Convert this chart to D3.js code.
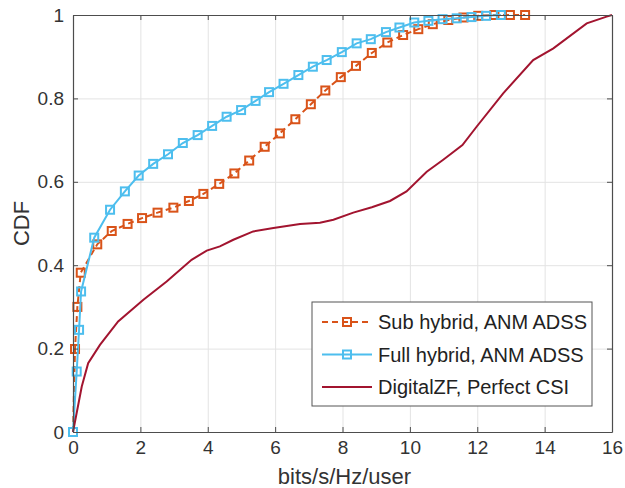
<!DOCTYPE html>
<html>
<head>
<meta charset="utf-8">
<script src="https://cdn.jsdelivr.net/npm/d3@7"></script>
<style>
  body { margin: 0; background: #fff; }
  text { font-family: "Liberation Sans", Arial, Helvetica, sans-serif; fill: #333; }
</style>
</head>
<body>
<div id="chart"></div>
<script>
"use strict"

/* tick values */
let xTicks = [0, 2, 4, 6, 8, 10, 12, 14, 16];
let yTicks = [0, 0.2, 0.4, 0.6, 0.8, 1];

/* Sub hybrid, ANM ADSS */
let subRate = [0, 0.06, 0.13, 0.23, 0.72, 1.15, 1.62, 2.05, 2.51, 2.98, 3.44, 3.87, 4.34, 4.79,
  5.23, 5.69, 6.14, 6.60, 7.06, 7.49, 7.95, 8.40, 8.87, 9.33, 9.80, 10.25, 10.68, 11.14,
  11.59, 12.03, 12.51, 12.97, 13.42];
let subCdf = [0, 0.199, 0.300, 0.382, 0.450, 0.482, 0.499, 0.513, 0.526, 0.538, 0.554, 0.571,
  0.595, 0.620, 0.651, 0.684, 0.716, 0.750, 0.786, 0.819, 0.851, 0.878, 0.909, 0.934, 0.952,
  0.966, 0.978, 0.988, 0.994, 0.998, 1, 1, 1];

/* Full hybrid, ANM ADSS */
let fullRate = [0, 0.11, 0.18, 0.24, 0.63, 1.10, 1.54, 1.95, 2.38, 2.82, 3.26, 3.70, 4.13, 4.56,
  4.99, 5.42, 5.82, 6.25, 6.69, 7.12, 7.53, 7.98, 8.42, 8.84, 9.29, 9.69, 10.13, 10.55, 10.97,
  11.39, 11.83, 12.26, 12.70];
let fullCdf = [0, 0.145, 0.245, 0.337, 0.466, 0.533, 0.577, 0.615, 0.643, 0.666, 0.693, 0.712,
  0.734, 0.756, 0.772, 0.794, 0.815, 0.835, 0.856, 0.876, 0.892, 0.911, 0.932, 0.942, 0.959,
  0.970, 0.982, 0.986, 0.990, 0.992, 0.995, 0.998, 1];

/* DigitalZF, Perfect CSI */
let zfRate = [0, 0.26, 0.45, 0.80, 1.34, 2.09, 2.78, 3.52, 3.97, 4.36, 4.76, 5.35, 5.95, 6.74,
  7.33, 7.73, 8.32, 8.87, 9.41, 9.90, 10.50, 10.99, 11.56, 11.98, 12.77, 13.66, 14.26, 15.25,
  15.84, 16];
let zfCdf = [0, 0.109, 0.165, 0.209, 0.265, 0.317, 0.361, 0.413, 0.435, 0.445, 0.461, 0.481,
  0.489, 0.499, 0.502, 0.509, 0.526, 0.539, 0.554, 0.577, 0.624, 0.653, 0.688, 0.732, 0.812,
  0.892, 0.920, 0.980, 0.996, 1];

let seriesNames = ["Sub hybrid, ANM ADSS", "Full hybrid, ANM ADSS", "DigitalZF, Perfect CSI"];
let seriesColors = ["#D95319", "#4DBEEE", "#A2142F"];

let series = [
  { name: seriesNames[0], color: seriesColors[0], dash: "6,4", marker: true,
    pts: subRate.map((x, i) => [x, subCdf[i]]) },
  { name: seriesNames[1], color: seriesColors[1], dash: null, marker: true,
    pts: fullRate.map((x, i) => [x, fullCdf[i]]) },
  { name: seriesNames[2], color: seriesColors[2], dash: null, marker: false,
    pts: zfRate.map((x, i) => [x, zfCdf[i]]) }
];

let W = 625, H = 488;
let margin = { left: 73, right: 13, top: 15, bottom: 56 };
let iw = W - margin.left - margin.right;
let ih = H - margin.top - margin.bottom;

let svg = d3.select("#chart").append("svg")
  .attr("width", W)
  .attr("height", H);

let g = svg.append("g").attr("transform", `translate(${margin.left},${margin.top})`);

let x = d3.scaleLinear().domain([0, 16]).range([0, iw]);
let y = d3.scaleLinear().domain([0, 1]).range([ih, 0]);

/* grid */
g.append("g")
  .attr("transform", `translate(0,${ih})`)
  .call(d3.axisBottom(x).tickValues(xTicks).tickSize(-ih).tickFormat(""))
  .call(a => a.select(".domain").remove())
  .call(a => a.selectAll("line").attr("stroke", "#e3e3e3").attr("stroke-width", 1));
g.append("g")
  .call(d3.axisLeft(y).tickValues(yTicks).tickSize(-iw).tickFormat(""))
  .call(a => a.select(".domain").remove())
  .call(a => a.selectAll("line").attr("stroke", "#e3e3e3").attr("stroke-width", 1));

/* lines */
let line = d3.line().x(d => x(d[0])).y(d => y(d[1]));

series.forEach(s => {
  g.append("path")
    .datum(s.pts)
    .attr("d", line)
    .attr("fill", "none")
    .attr("stroke", s.color)
    .attr("stroke-width", 2)
    .attr("stroke-dasharray", s.dash);

  if (s.marker) {
    g.selectAll(null)
      .data(s.pts)
      .enter().append("rect")
      .attr("x", d => x(d[0]) - 4)
      .attr("y", d => y(d[1]) - 4)
      .attr("width", 8)
      .attr("height", 8)
      .attr("fill", "none")
      .attr("stroke", s.color)
      .attr("stroke-width", 2);
  }
});

/* axes, box with inward ticks */
let axisColor = "#4d4d4d";
function styleAxis(a) {
  a.select(".domain").attr("stroke", axisColor).attr("stroke-width", 1.2);
  a.selectAll(".tick line").attr("stroke", axisColor);
  a.selectAll(".tick text").attr("fill", "#333").style("font-size", "19px")
    .attr("font-family", "Liberation Sans, Arial, sans-serif");
}

g.append("g")
  .attr("transform", `translate(0,${ih})`)
  .call(d3.axisBottom(x).tickValues(xTicks).tickSizeInner(-5).tickSizeOuter(0).tickPadding(9)
    .tickFormat(d3.format("d")))
  .call(styleAxis);
g.append("g")
  .call(d3.axisLeft(y).tickValues(yTicks).tickSizeInner(-5).tickSizeOuter(0).tickPadding(9)
    .tickFormat(d => d === 0 || d === 1 ? String(d) : d3.format(".1f")(d)))
  .call(styleAxis);
g.append("g")
  .call(d3.axisTop(x).tickValues(xTicks).tickSizeInner(-5).tickSizeOuter(0).tickFormat(""))
  .call(styleAxis);
g.append("g")
  .attr("transform", `translate(${iw},0)`)
  .call(d3.axisRight(y).tickValues(yTicks).tickSizeInner(-5).tickSizeOuter(0).tickFormat(""))
  .call(styleAxis);

/* axis titles */
svg.append("text")
  .attr("x", margin.left + iw / 2 + 2)
  .attr("y", 484)
  .attr("text-anchor", "middle")
  .style("font-size", "22px")
  .text("bits/s/Hz/user");

svg.append("text")
  .attr("transform", `translate(29,${margin.top + ih / 2}) rotate(-90)`)
  .attr("text-anchor", "middle")
  .style("font-size", "22px")
  .text("CDF");

/* legend */
let legend = svg.append("g").attr("transform", "translate(312,302)");
legend.append("rect")
  .attr("width", 280)
  .attr("height", 104)
  .attr("fill", "#fff")
  .attr("stroke", "#555")
  .attr("stroke-width", 1);

series.forEach((s, i) => {
  let row = legend.append("g").attr("transform", `translate(0,${20 + i * 32.5})`);
  row.append("line")
    .attr("x1", 10).attr("x2", 60)
    .attr("stroke", s.color)
    .attr("stroke-width", 2)
    .attr("stroke-dasharray", s.dash);
  if (s.marker) {
    row.append("rect")
      .attr("x", 31).attr("y", -4)
      .attr("width", 8).attr("height", 8)
      .attr("fill", "none")
      .attr("stroke", s.color)
      .attr("stroke-width", 2);
  }
  row.append("text")
    .attr("x", 66)
    .attr("dy", "0.35em")
    .style("font-size", "20px")
    .style("fill", "#222")
    .text(s.name);
});
</script>
</body>
</html>
